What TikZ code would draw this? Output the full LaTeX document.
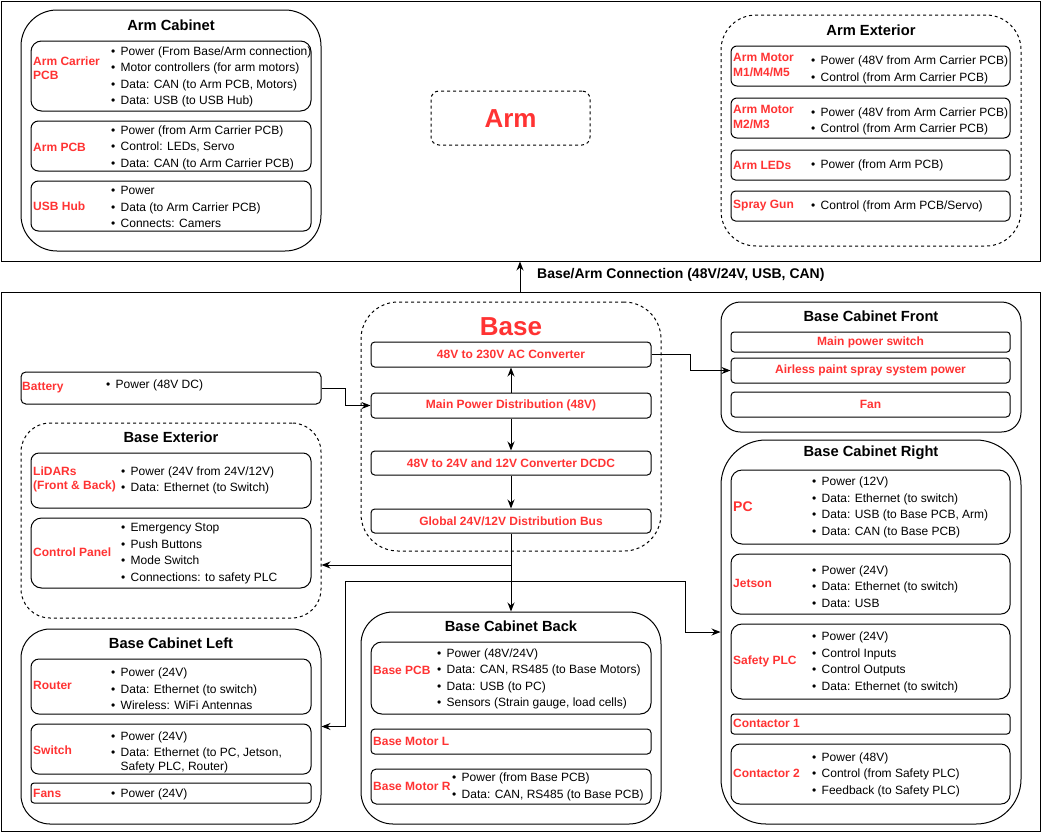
\documentclass[tikz,border=0pt]{standalone}
\usepackage{fontspec}
\setmainfont{Liberation Sans}
\usetikzlibrary{arrows.meta}
\definecolor{lblred}{HTML}{FF3333}
\newcommand{\bul}{\makebox[9.5pt][l]{•}}

\begin{document}
\begin{tikzpicture}[x=1pt,y=-1pt]
    \tikzstyle{outer}=[draw, line width=1pt, inner sep=0pt]
    \tikzstyle{cab}=[draw, line width=1pt, inner sep=0pt, minimum width=300pt]
    \tikzstyle{ext}=[cab, dash pattern=on 3pt off 3pt]
    \tikzstyle{part}=[draw, line width=1pt, inner sep=0pt, minimum width=280pt]
    \tikzstyle{ttl}=[inner sep=0pt, font=\fontsize{14.7}{17}\selectfont\bfseries]
    \tikzstyle{lbl}=[anchor=west, align=left, inner sep=0pt, yshift=-1pt, text=lblred, font=\fontsize{12}{14.5}\selectfont\bfseries]
    \tikzstyle{lst}=[anchor=west, align=left, inner sep=0pt, yshift=-1.5pt, font=\fontsize{12}{16.5}\selectfont]
    \tikzstyle{midtxt}=[text=lblred, font=\fontsize{12}{14.5}\selectfont\bfseries]
    \tikzstyle{big}=[inner sep=0pt, text=lblred, font=\fontsize{26}{30}\selectfont\bfseries]
    \tikzstyle{conn}=[line width=1pt, -{Stealth[length=9pt,width=7pt]}]
    \useasboundingbox (0,0) rectangle (1041,833);
    % outer frames
    \node[outer, minimum width=1039pt, minimum height=260pt] (armframe) at (520.5,131) {};
    \node[outer, minimum width=1039pt, minimum height=539pt] (baseframe) at (520.5,561.5) {};
    \coordinate (link) at (520,0);
    \draw[conn] (baseframe.north -| link) -- (armframe.south -| link);
    \node[anchor=west, inner sep=0pt, font=\fontsize{14}{16}\selectfont\bfseries] (linklbl) at (537,274.5) {Base/Arm Connection (48V/24V, USB, CAN)};
    % arm cabinet
    \node[cab, minimum height=241pt, rounded corners=36pt] (armcab) at (171,130.5) {};
    \node[ttl] (armcabttl) at (171,25) {Arm Cabinet};
    \node[part, minimum height=70pt, rounded corners=10.5pt] (carrier) at (171,76) {};
    \node[lbl] (carrierlbl) at (33,67) {Arm Carrier\\PCB};
    \node[lst] (carrierlst) at (111,75.5) {\bul Power (From Base/Arm connection)\\\bul Motor controllers (for arm motors)\\\bul Data: CAN (to Arm PCB, Motors)\\\bul Data: USB (to USB Hub)};
    \node[part, minimum height=50pt, rounded corners=7.5pt] (armpcb) at (171,146) {};
    \node[lbl] (armpcblbl) at (33,146) {Arm PCB};
    \node[lst] (armpcblst) at (111,146) {\bul Power (from Arm Carrier PCB)\\\bul Control: LEDs, Servo\\\bul Data: CAN (to Arm Carrier PCB)};
    \node[part, minimum height=50pt, rounded corners=7.5pt] (usbhub) at (171,206) {};
    \node[lbl] (usbhublbl) at (33,205) {USB Hub};
    \node[lst] (usbhublst) at (111,205.5) {\bul Power\\\bul Data (to Arm Carrier PCB)\\\bul Connects: Camers};
    % arm
    \node[ext, minimum width=159pt, minimum height=54pt, rounded corners=8pt] (arm) at (510.5,118) {};
    \node[big] (armttl) at (510.5,119) {Arm};
    % arm exterior
    \node[ext, minimum height=231pt, rounded corners=35pt] (armext) at (871,130.5) {};
    \node[ttl] (armextttl) at (871,30) {Arm Exterior};
    \node[part, minimum width=279pt, minimum height=40pt, rounded corners=6pt] (motora) at (870.5,66) {};
    \node[lbl] (motoralbl) at (733,64) {Arm Motor\\M1/M4/M5};
    \node[lst] (motoralst) at (811,68.5) {\bul Power (48V from Arm Carrier PCB)\\\bul Control (from Arm Carrier PCB)};
    \node[part, minimum width=279pt, minimum height=40pt, rounded corners=6pt] (motorb) at (870.5,118) {};
    \node[lbl] (motorblbl) at (733,116) {Arm Motor\\M2/M3};
    \node[lst] (motorblst) at (811,120) {\bul Power (48V from Arm Carrier PCB)\\\bul Control (from Arm Carrier PCB)};
    \node[part, minimum width=279pt, minimum height=30pt, rounded corners=4.5pt] (armleds) at (870.5,165) {};
    \node[lbl] (armledslbl) at (733,164) {Arm LEDs};
    \node[lst] (armledslst) at (811,164) {\bul Power (from Arm PCB)};
    \node[part, minimum width=279pt, minimum height=30pt, rounded corners=4.5pt] (spraygun) at (870.5,206) {};
    \node[lbl] (spraygunlbl) at (733,205) {Spray Gun};
    \node[lst] (spraygunlst) at (811,205) {\bul Control (from Arm PCB/Servo)};
    % base
    \node[ext, minimum height=249pt, rounded corners=37pt] (base) at (511,426.5) {};
    \node[big] (basettl) at (511,326.5) {Base};
    \node[part, midtxt, minimum height=25pt, rounded corners=3.75pt] (acconv) at (511,354.5) {48V to 230V AC Converter};
    \node[part, midtxt, minimum height=25pt, rounded corners=3.75pt] (mpd) at (511,405.5) {Main Power Distribution (48V)};
    \node[part, midtxt, minimum height=24pt, rounded corners=3.75pt] (dcdc) at (511,463) {48V to 24V and 12V Converter DCDC};
    \node[part, midtxt, minimum height=24pt, rounded corners=3.75pt] (bus) at (511,521) {Global 24V/12V Distribution Bus};
    % battery
    \node[part, minimum width=300pt, minimum height=32pt, rounded corners=4.8pt] (battery) at (171,388) {};
    \node[lbl] (batterylbl) at (22,387) {Battery};
    \node[lst] (batterylst) at (106,384) {\bul Power (48V DC)};
    % base exterior
    \node[ext, minimum height=195pt, rounded corners=29pt] (baseext) at (171,520.5) {};
    \node[ttl] (baseextttl) at (171,437) {Base Exterior};
    \node[part, minimum height=55pt, rounded corners=8pt] (lidar) at (171,480.5) {};
    \node[lbl] (lidarlbl) at (33,478.5) {LiDARs\\(Front \& Back)};
    \node[lst] (lidarlst) at (121,479) {\bul Power (24V from 24V/12V)\\\bul Data: Ethernet (to Switch)};
    \node[part, minimum height=70pt, rounded corners=10.5pt] (panel) at (171,553) {};
    \node[lbl] (panellbl) at (33,551) {Control Panel};
    \node[lst] (panellst) at (121,552) {\bul Emergency Stop\\\bul Push Buttons\\\bul Mode Switch\\\bul Connections: to safety PLC};
    % base cabinet left
    \node[cab, minimum height=195pt, rounded corners=29pt] (leftcab) at (171,726.5) {};
    \node[ttl] (leftcabttl) at (171,643) {Base Cabinet Left};
    \node[part, minimum height=55pt, rounded corners=8pt] (router) at (171,686.5) {};
    \node[lbl] (routerlbl) at (33,684) {Router};
    \node[lst] (routerlst) at (111,687.5) {\bul Power (24V)\\\bul Data: Ethernet (to switch)\\\bul Wireless: WiFi Antennas};
    \node[part, minimum height=50pt, rounded corners=7.5pt] (switch) at (171,749) {};
    \node[lbl] (switchlbl) at (33,749) {Switch};
    \node[lst] (switchlst) at (111,751) {\bul Power (24V)\\\bul Data: Ethernet (to PC, Jetson,\\[-2.5pt]\hspace*{9.5pt}Safety PLC, Router)};
    \node[part, minimum height=20pt, rounded corners=3pt] (fans) at (171,793) {};
    \node[lbl] (fanslbl) at (33,792) {Fans};
    \node[lst] (fanslst) at (111,793) {\bul Power (24V)};
    % base cabinet back
    \node[cab, minimum height=212pt, rounded corners=32pt] (backcab) at (511,718) {};
    \node[ttl] (backcabttl) at (511,626) {Base Cabinet Back};
    \node[part, minimum height=72pt, rounded corners=10.8pt] (basepcb) at (511,678) {};
    \node[lbl] (basepcblbl) at (373,669) {Base PCB};
    \node[lst] (basepcblst) at (437,677.5) {\bul Power (48V/24V)\\\bul Data: CAN, RS485 (to Base Motors)\\\bul Data: USB (to PC)\\\bul Sensors (Strain gauge, load cells)};
    \node[part, minimum height=25pt, rounded corners=3.75pt] (motorl) at (511,741.5) {};
    \node[lbl] (motorllbl) at (373,740) {Base Motor L};
    \node[part, minimum height=35pt, rounded corners=5.25pt] (motorr) at (511,786.5) {};
    \node[lbl] (motorrlbl) at (373,785) {Base Motor R};
    \node[lst] (motorrlst) at (452,785.5) {\bul Power (from Base PCB)\\\bul Data: CAN, RS485 (to Base PCB)};
    % base cabinet front
    \node[cab, minimum height=130pt, rounded corners=19.5pt] (frontcab) at (871,367) {};
    \node[ttl] (frontcabttl) at (871,316) {Base Cabinet Front};
    \node[part, midtxt, minimum width=279pt, minimum height=20pt, rounded corners=3pt] (mainsw) at (870.5,342) {Main power switch};
    \node[part, midtxt, minimum width=279pt, minimum height=25pt, rounded corners=3.75pt] (airless) at (870.5,370.5) {Airless paint spray system power};
    \node[part, midtxt, minimum width=279pt, minimum height=25pt, rounded corners=3.75pt] (fan) at (870.5,404.5) {Fan};
    % base cabinet right
    \node[cab, minimum height=384pt, rounded corners=45pt] (rightcab) at (871,632) {};
    \node[ttl] (rightcabttl) at (871,453) {Base Cabinet Right};
    \node[part, minimum width=279pt, minimum height=74pt, rounded corners=11pt] (pc) at (870.5,507) {};
    \node[lbl, font=\fontsize{14}{16}\selectfont\bfseries] (pclbl) at (733,506) {PC};
    \node[lst] (pclst) at (812,506) {\bul Power (12V)\\\bul Data: Ethernet (to switch)\\\bul Data: USB (to Base PCB, Arm)\\\bul Data: CAN (to Base PCB)};
    \node[part, minimum width=279pt, minimum height=60pt, rounded corners=9pt] (jetson) at (870.5,584) {};
    \node[lbl] (jetsonlbl) at (733,582) {Jetson};
    \node[lst] (jetsonlst) at (812,585) {\bul Power (24V)\\\bul Data: Ethernet (to switch)\\\bul Data: USB};
    \node[part, minimum width=279pt, minimum height=75pt, rounded corners=11pt] (plc) at (870.5,661.5) {};
    \node[lbl] (plclbl) at (733,660) {Safety PLC};
    \node[lst] (plclst) at (812,661) {\bul Power (24V)\\\bul Control Inputs\\\bul Control Outputs\\\bul Data: Ethernet (to switch)};
    \node[part, minimum width=279pt, minimum height=20pt, rounded corners=3pt] (cont1) at (870.5,724) {};
    \node[lbl] (cont1lbl) at (733,722) {Contactor 1};
    \node[part, minimum width=279pt, minimum height=60pt, rounded corners=9pt] (cont2) at (870.5,774) {};
    \node[lbl] (cont2lbl) at (733,772) {Contactor 2};
    \node[lst] (cont2lst) at (812,773) {\bul Power (48V)\\\bul Control (from Safety PLC)\\\bul Feedback (to Safety PLC)};
    % connections
    \coordinate (bendr) at (685,581);
    \coordinate (bendl) at (345,581);
    \draw[conn] (battery.east) -- ++(24,0) |- (mpd.west);
    \draw[conn] (mpd.north) -- (acconv.south);
    \draw[conn] (mpd.south) -- (dcdc.north);
    \draw[conn] (dcdc.south) -- (bus.north);
    \draw[conn] (acconv.east) -- ++(39,0) |- (airless.west);
    \draw[conn] (bus.south) -- (backcab.north);
    \draw[conn] (bus.south) |- ([yshift=-44.5pt]baseext.east);
    \draw[conn, {Stealth[length=9pt,width=7pt]}-{Stealth[length=9pt,width=7pt]}] (rightcab.west) -| (bendr) -- (bendl) |- (leftcab.east);
\end{tikzpicture}
\end{document}
